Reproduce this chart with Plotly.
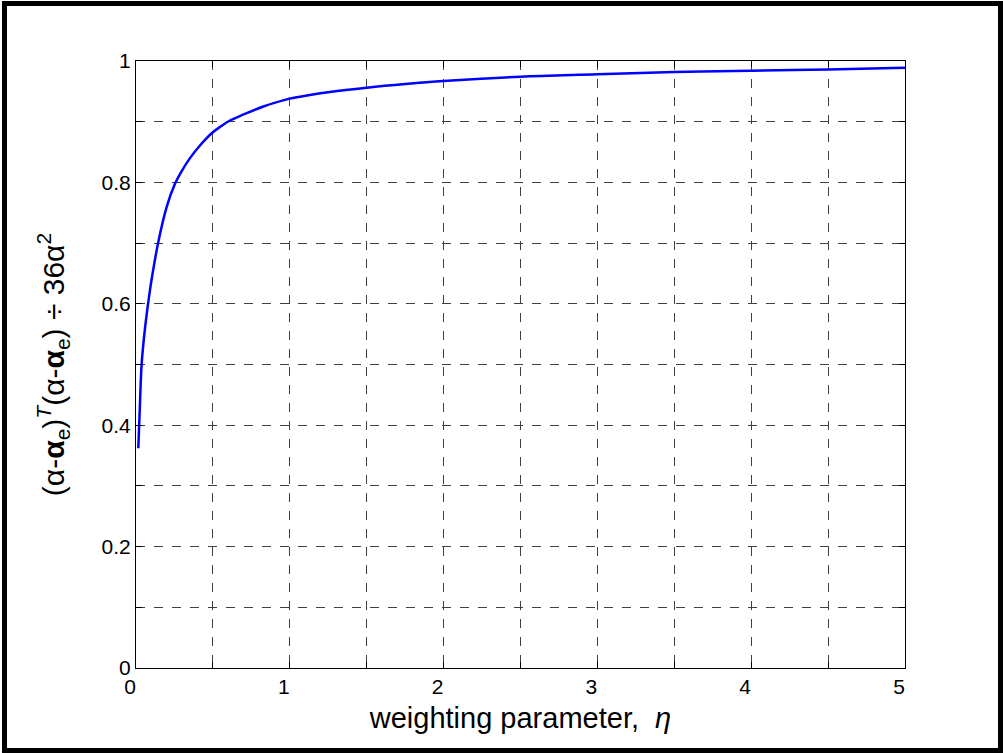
import plotly.graph_objects as go

# data
eta = [0.015, 0.025, 0.037, 0.06, 0.091, 0.12, 0.145, 0.2, 0.254, 0.3, 0.351, 0.42, 0.492,
       0.55, 0.611, 0.7, 0.828, 0.9, 1.0, 1.13, 1.26, 1.5, 1.75, 2.0, 2.5, 3.0, 3.5, 4.0, 4.5, 5.0]
ratio = [0.362, 0.43, 0.502, 0.563, 0.623, 0.668, 0.702, 0.760, 0.798, 0.820, 0.840, 0.862, 0.881,
         0.892, 0.902, 0.912, 0.925, 0.931, 0.938, 0.944, 0.949, 0.956, 0.962, 0.967, 0.974, 0.978,
         0.982, 0.984, 0.986, 0.989]

x_ticks = [0, 0.5, 1, 1.5, 2, 2.5, 3, 3.5, 4, 4.5, 5]
x_labels = ["0", "", "1", "", "2", "", "3", "", "4", "", "5"]
y_ticks = [0, 0.1, 0.2, 0.3, 0.4, 0.5, 0.6, 0.7, 0.8, 0.9, 1.0]
y_labels = ["0", "", "0.2", "", "0.4", "", "0.6", "", "0.8", "", "1"]

W, H = 1003, 753
L, R, T, B = 136, 905, 61, 668
pw, ph = R - L, B - T

def px(xp):
    return (xp - L) / pw

def py(yp):
    return (B - yp) / ph

fig = go.Figure()
fig.add_trace(go.Scatter(x=eta, y=ratio, mode="lines", line_shape="spline",
                         line=dict(color="#0000ff", width=2.5), showlegend=False))

font = dict(family="Liberation Sans, Arial, sans-serif", color="black")

axis_common = dict(
    showgrid=True, gridcolor="#404040", gridwidth=1, griddash="dash",
    showline=True, linecolor="black", linewidth=1, mirror="ticks",
    ticks="inside", ticklen=6, tickcolor="black", zeroline=False,
    tickfont=dict(size=21, **font),
)

fig.update_xaxes(range=[0, 5], tickvals=x_ticks, ticktext=x_labels,
                 title=dict(text="weighting parameter,  <i>η</i>", font=dict(size=29, **font), standoff=10),
                 ticklabelshift=-6, **axis_common)
fig.update_yaxes(range=[0, 1], tickvals=y_ticks, ticktext=y_labels,
                 title=dict(text="(α-<b>α</b><sub>e</sub>)<sup><i>T</i></sup>(α-<b>α</b><sub>e</sub>) ÷ 36α<sup>2</sup>",
                            font=dict(size=30, **font), standoff=28),
                 **axis_common)

fig.add_shape(type="rect", xref="paper", yref="paper",
              x0=px(4.5), x1=px(1000.5), y0=py(750.5), y1=py(3.5),
              line=dict(color="black", width=5), layer="above")

fig.update_layout(width=W, height=H, margin=dict(l=L, r=W - R, t=T, b=H - B),
                  paper_bgcolor="white", plot_bgcolor="white", font=font)

fig.write_html("out.html")
